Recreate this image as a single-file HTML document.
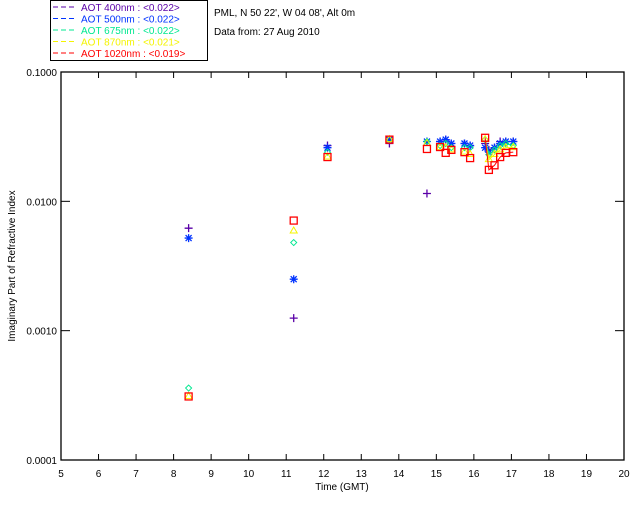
<!DOCTYPE html>
<html><head><meta charset="utf-8"><style>
body{margin:0;background:#fff;width:640px;height:512px;overflow:hidden;font-family:"Liberation Sans",sans-serif}
svg text{font-family:"Liberation Sans",sans-serif;font-size:10px}
</style></head><body>
<svg id="c" width="640" height="512">
<rect x="50.5" y="0.5" width="157" height="60" fill="#fff" stroke="#000"/>
<g id="legend"></g>
<text x="214" y="16">PML, N 50 22', W 04 08', Alt 0m</text>
<text x="214" y="35">Data from: 27 Aug 2010</text>
<g id="axes"></g>
<g id="marks"></g>
<text transform="translate(15,266) rotate(-90)" text-anchor="middle">Imaginary Part of Refractive Index</text>
<text x="342" y="490" text-anchor="middle">Time (GMT)</text>
</svg>
<script>
const times=[8.4,11.2,12.1,13.75,14.75,15.1,15.25,15.4,15.75,15.9,16.3,16.4,16.55,16.7,16.85,17.05];
const s400=[0.0062,0.00125,0.027,0.028,0.0115,0.029,0.030,0.028,0.028,0.027,0.028,0.025,0.026,0.029,0.029,0.029];
const s500=[0.0052,0.0025,0.026,0.030,0.029,0.029,0.030,0.028,0.028,0.027,0.026,0.024,0.026,0.028,0.029,0.029];
const s675=[0.00036,0.0048,0.024,0.030,0.029,0.027,0.028,0.026,0.026,0.026,0.030,0.023,0.025,0.027,0.028,0.027];
const s870=[0.00031,0.0059,0.022,0.030,0.028,0.026,0.026,0.025,0.024,0.023,0.030,0.021,0.023,0.025,0.026,0.026];
const s1020=[0.00031,0.0071,0.022,0.030,0.0254,0.0263,0.0237,0.0250,0.024,0.0216,0.031,0.0175,0.019,0.022,0.0237,0.024];
const legendLabels=["AOT  400nm : <0.022>","AOT  500nm : <0.022>","AOT  675nm : <0.022>","AOT  870nm : <0.021>","AOT 1020nm : <0.019>"];
const xTicks=[5,6,7,8,9,10,11,12,13,14,15,16,17,18,19,20];
const yTicks=["0.1000","0.0100","0.0010","0.0001"];
const NS="http://www.w3.org/2000/svg";
const X0=61,X1=624,Y0=460,Y1=72;
const xs=t=>X0+(t-5)/15*(X1-X0);
const ys=v=>Y0-(Math.log10(v)+4)/3*(Y0-Y1);
function mk(tag,at,parent){const e=document.createElementNS(NS,tag);for(const k in at)e.setAttribute(k,at[k]);parent.appendChild(e);return e;}
const ax=document.getElementById('axes'),mg=document.getElementById('marks'),lg=document.getElementById('legend');
let f=mk('rect',{x:X0,y:Y1,width:X1-X0,height:Y0-Y1,fill:'none',stroke:'#000','stroke-width':1.3},ax);


xTicks.forEach(t=>{const x=xs(t);
 mk('line',{x1:x,x2:x,y1:Y0,y2:Y0-6,stroke:'#000'},ax);
 mk('line',{x1:x,x2:x,y1:Y1,y2:Y1+6,stroke:'#000'},ax);
 const tx=mk('text',{x:x,y:Y0+17,'text-anchor':'middle'},ax);tx.textContent=t;
 
 });
yTicks.forEach(l=>{const y=ys(parseFloat(l));
 mk('line',{x1:X0,x2:X0+9,y1:y,y2:y,stroke:'#000'},ax);
 mk('line',{x1:X1,x2:X1-9,y1:y,y2:y,stroke:'#000'},ax);
 const tx=mk('text',{x:X0-4,y:y+4,'text-anchor':'end'},ax);tx.textContent=l;
 
 });
const series=[[s400,'#5a00a8','plus'],[s500,'#0033ff','star'],[s675,'#00e890','diamond'],[s870,'#f4f400','tri'],[s1020,'#ff0000','square']];
series.forEach(([vals,col,sh],si)=>{
 const g=mk('g',{},mg);
 
 
 let pts=[];for(let i=10;i<times.length;i++)pts.push(xs(times[i])+','+ys(vals[i]));
 mk('polyline',{points:pts.join(' '),fill:'none',stroke:col,'stroke-width':1},g);
 vals.forEach((v,i)=>{const x=xs(times[i]),y=ys(v);let e;
  if(sh=='plus')e=mk('path',{d:`M${x-4},${y}h8M${x},${y-4}v8`,stroke:col,'stroke-width':1.3,fill:'none'},g);
  else if(sh=='star')e=mk('path',{d:`M${x-4},${y}h8M${x},${y-4}v8M${x-3},${y-3}l6,6M${x-3},${y+3}l6,-6`,stroke:col,'stroke-width':1.3,fill:'none'},g);
  else if(sh=='diamond')e=mk('path',{d:`M${x},${y-3}l3,3l-3,3l-3,-3z`,stroke:col,fill:'none'},g);
  else if(sh=='tri')e=mk('path',{d:`M${x},${y-4}l3.5,6h-7z`,stroke:col,fill:'none'},g);
  else e=mk('rect',{x:x-3.5,y:y-3.5,width:7,height:7,stroke:col,'stroke-width':1.3,fill:'none'},g);
  
  });
 const ly=10+si*11.5;
 mk('line',{x1:53,x2:77,y1:ly-3,y2:ly-3,stroke:col,'stroke-dasharray':'5,3'},lg);
 const t=mk('text',{x:81,y:ly+1,fill:col,'xml:space':'preserve'},lg);t.textContent=legendLabels[si];
 
 
});
</script>
</body></html>
